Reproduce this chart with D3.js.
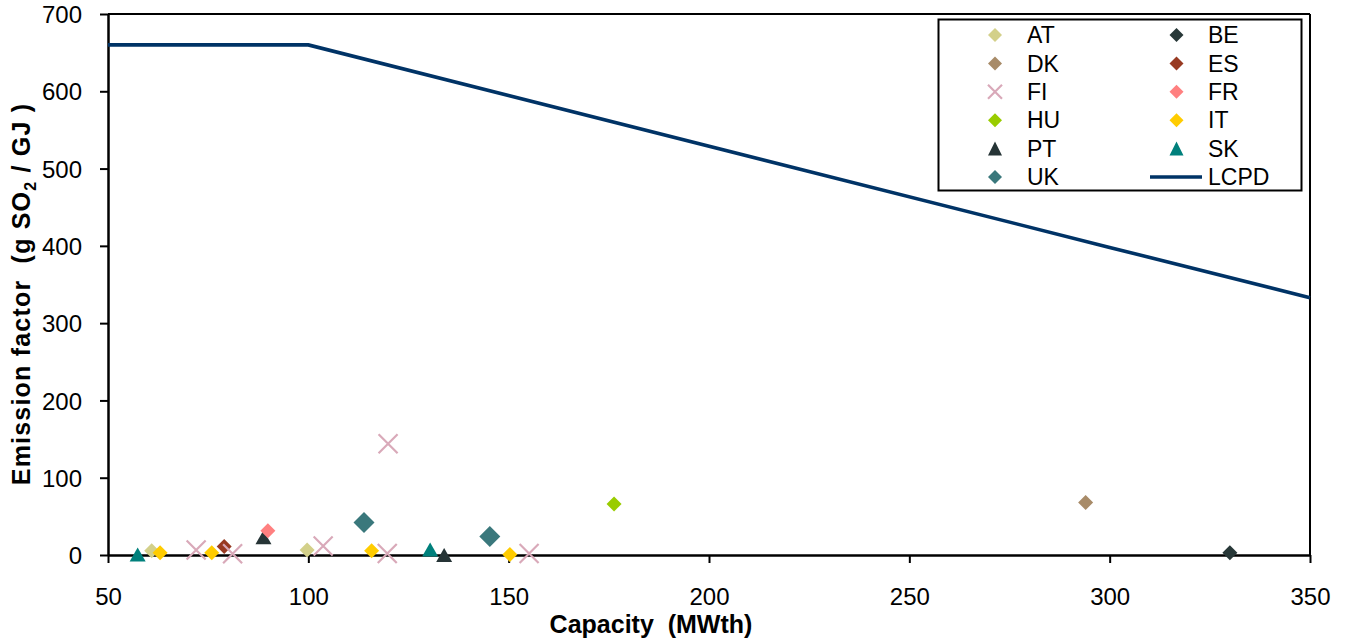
<!DOCTYPE html>
<html>
<head>
<meta charset="utf-8">
<script src="https://cdn.jsdelivr.net/npm/d3@7"></script>
<style>
  html, body { margin: 0; padding: 0; background: #fff; }
  svg { display: block; font-family: "Liberation Sans", Arial, sans-serif; }
</style>
</head>
<body>
<svg id="chart" width="1348" height="642"></svg>
<script>
// ---------- data ----------
const xTicks = [50, 100, 150, 200, 250, 300, 350];
const yTicks = [0, 100, 200, 300, 400, 500, 600, 700];

const seriesNames = ["AT", "BE", "DK", "ES", "FI", "FR", "HU", "IT", "PT", "SK", "UK"];
const seriesColors = ["#d3d08a", "#283838", "#a88b68", "#983a22", "#d9a9b9", "#ff8080", "#99cc00", "#ffcc00", "#263436", "#00807c", "#3a787c"];
const seriesShapes = ["diamond", "diamond", "diamond", "diamond", "cross", "diamond", "diamond", "diamond", "triangle", "triangle", "bigdiamond"];

const AT_x = [60.9, 99.7];          const AT_y = [5.6, 6.5];
const BE_x = [330];                 const BE_y = [3];
const DK_x = [294];                 const DK_y = [68];
const ES_x = [79];                  const ES_y = [11];
const FI_x = [72, 81.1, 103.7, 119.7, 119.9, 155.1];
const FI_y = [6.5, 1.5, 11.7, 2, 144, 2];
const FR_x = [89.9];                const FR_y = [31.5];
const HU_x = [176.3];               const HU_y = [66];
const IT_x = [63, 75.9, 115.8, 150.3];  const IT_y = [3, 3, 5.6, 0.5];
const PT_x = [88.8, 133.9];         const PT_y = [23, 0];
const SK_x = [57.4, 130.4];         const SK_y = [0.5, 7];
const UK_x = [113.9, 145.3];        const UK_y = [42, 24];

const LCPD_x = [50, 100, 300, 350];
const LCPD_y = [660, 660, 398, 333];

const seriesX = [AT_x, BE_x, DK_x, ES_x, FI_x, FR_x, HU_x, IT_x, PT_x, SK_x, UK_x];
const seriesY = [AT_y, BE_y, DK_y, ES_y, FI_y, FR_y, HU_y, IT_y, PT_y, SK_y, UK_y];
const drawOrder = ["AT", "BE", "DK", "ES", "FI", "PT", "SK", "FR", "HU", "IT", "UK"];

// ---------- layout ----------
const svg = d3.select("#chart");
const L = 108, R = 1310, T = 14, B = 555;

const x = d3.scaleLinear().domain([50, 350]).range([L, R]);
const y = d3.scaleLinear().domain([0, 700]).range([B, T]);

// plot frame (top & right)
svg.append("line").attr("x1", L).attr("x2", R).attr("y1", T).attr("y2", T)
  .attr("stroke", "#000").attr("stroke-width", 2);
svg.append("line").attr("x1", R).attr("x2", R).attr("y1", T).attr("y2", B)
  .attr("stroke", "#000").attr("stroke-width", 2);

// axes
const xAxis = svg.append("g").attr("transform", `translate(0,${B})`)
  .call(d3.axisBottom(x).tickValues(xTicks).tickSize(8).tickPadding(25).tickSizeOuter(0));
const yAxis = svg.append("g").attr("transform", `translate(${L},0)`)
  .call(d3.axisLeft(y).tickValues(yTicks).tickSize(8).tickPadding(18).tickSizeOuter(0));
[xAxis, yAxis].forEach(g => {
  g.select(".domain").attr("stroke", "#000").attr("stroke-width", 2.5);
  g.selectAll(".tick line").attr("stroke", "#000").attr("stroke-width", 2);
  g.selectAll(".tick text").attr("fill", "#000")
    .style("font-family", "'Liberation Sans', Arial, sans-serif").style("font-size", "24px");
});
yAxis.selectAll(".tick text").attr("dy", "0.36em");

// axis titles
svg.append("text").attr("x", 651).attr("y", 633).attr("text-anchor", "middle")
  .style("font-size", "25px").style("font-weight", "bold").attr("xml:space", "preserve")
  .text("Capacity  (MWth)");
const yt = svg.append("text").attr("transform", "translate(30,294) rotate(-90)")
  .attr("text-anchor", "middle").style("font-size", "25px").style("font-weight", "bold")
  .style("letter-spacing", "1.2px").attr("xml:space", "preserve");
yt.append("tspan").text("Emission factor  (g SO");
yt.append("tspan").attr("dy", 6).style("font-size", "16px").text("2");
yt.append("tspan").attr("dy", -6).text(" / GJ )");

// marker builder
function markerPath(shape) {
  if (shape === "diamond") { const r = 7.5; return `M0,${-r}L${r},0L0,${r}L${-r},0Z`; }
  if (shape === "bigdiamond") { const r = 10.5; return `M0,${-r}L${r},0L0,${r}L${-r},0Z`; }
  if (shape === "triangle") { const w = 8, h = 7; return `M0,${-h}L${w},${h}L${-w},${h}Z`; }
  if (shape === "cross") { const r = 9.5; return `M${-r},${-r}L${r},${r}M${-r},${r}L${r},${-r}`; }
}
function styleMarker(sel, shape, color) {
  if (shape === "cross") sel.attr("fill", "none").attr("stroke", color).attr("stroke-width", 2.2);
  else sel.attr("fill", color).attr("stroke", "none");
}

// LCPD line
const lcpd = LCPD_x.map((v, i) => [v, LCPD_y[i]]);
svg.append("path").datum(lcpd)
  .attr("d", d3.line().x(d => x(d[0])).y(d => y(d[1])))
  .attr("fill", "none").attr("stroke", "#003366").attr("stroke-width", 3.6);

// scatter points
const ptsG = svg.append("g");
drawOrder.forEach(name => {
  const i = seriesNames.indexOf(name);
  const pts = seriesX[i].map((v, k) => ({ x: v, y: seriesY[i][k] }));
  const sel = ptsG.selectAll(null).data(pts).enter().append("path")
    .attr("d", markerPath(seriesShapes[i]))
    .attr("transform", d => `translate(${x(d.x)},${y(d.y)})`);
  styleMarker(sel, seriesShapes[i], seriesColors[i]);
});

// legend
const lg = svg.append("g");
lg.append("rect").attr("x", 938.5).attr("y", 19.5).attr("width", 363).attr("height", 171)
  .attr("fill", "#fff").attr("stroke", "#000").attr("stroke-width", 2);
const legendItems = seriesNames.concat(["LCPD"]);
legendItems.forEach((name, idx) => {
  const col = idx % 2, row = Math.floor(idx / 2);
  const mx = col === 0 ? 995 : 1176.5;
  const tx = col === 0 ? 1027 : 1208;
  const my = 35 + row * 28.4;
  if (name === "LCPD") {
    lg.append("line").attr("x1", 1150).attr("x2", 1202).attr("y1", my).attr("y2", my)
      .attr("stroke", "#003366").attr("stroke-width", 3.6);
  } else {
    const i = seriesNames.indexOf(name);
    let shape = seriesShapes[i];
    let p;
    if (shape === "bigdiamond" || shape === "diamond") p = `M0,-7L7,0L0,7L-7,0Z`;
    else if (shape === "triangle") p = `M0,-7L7,7L-7,7Z`;
    else p = `M-7,-7L7,7M-7,7L7,-7`;
    const m = lg.append("path").attr("d", p).attr("transform", `translate(${mx},${my})`);
    styleMarker(m, shape, seriesColors[i]);
  }
  lg.append("text").attr("x", tx).attr("y", my).attr("dy", "0.36em")
    .style("font-size", "23px").attr("fill", "#000").text(name);
});
</script>
</body>
</html>
